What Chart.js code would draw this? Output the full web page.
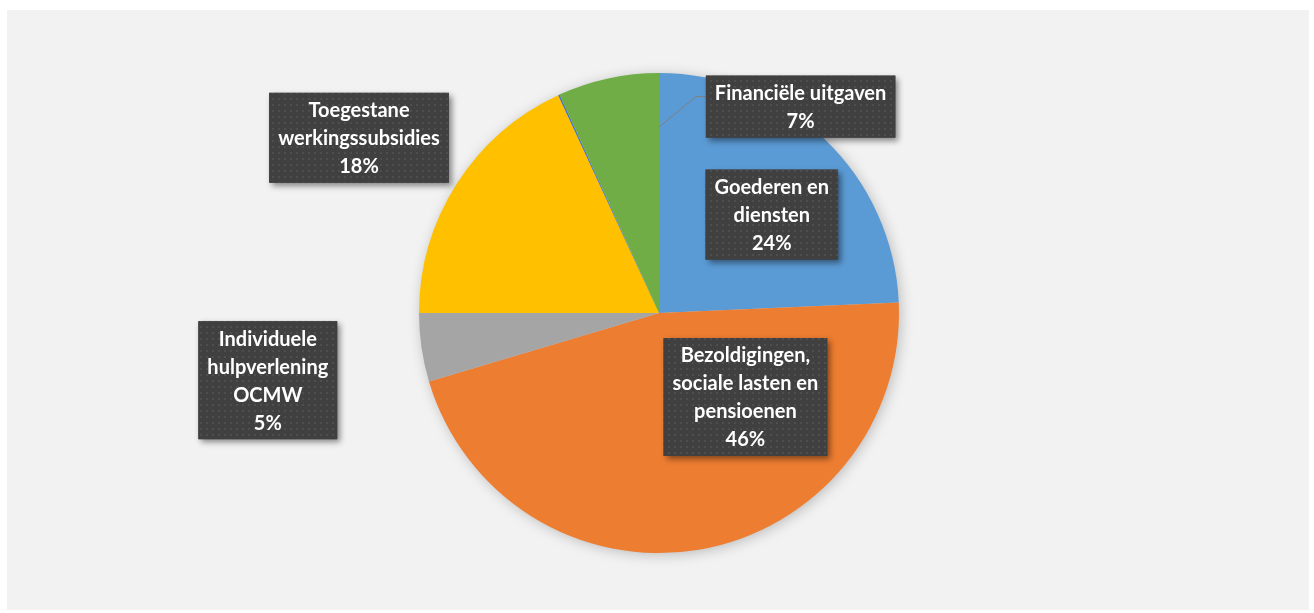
<!DOCTYPE html>
<html>
<head>
<meta charset="utf-8">
<script src="https://cdn.jsdelivr.net/npm/chart.js@4.4.0/dist/chart.umd.min.js"></script>
<style>
  html, body { margin: 0; padding: 0; background: #ffffff; }
  #wrap { width: 1314px; height: 613px; }
</style>
</head>
<body>
<div id="wrap"><canvas id="uitgavenChart" width="1314" height="613"></canvas></div>
<script>
// Uitgaven per soort
const categories = [
    ['Goederen en', 'diensten'],
    ['Bezoldigingen,', 'sociale lasten en', 'pensioenen'],
    ['Individuele', 'hulpverlening', 'OCMW'],
    ['Toegestane', 'werkingssubsidies'],
    ['Overige'],
    ['Financiële uitgaven']
];
const values = [24.3, 46.1, 4.6, 18.1, 0.1, 6.8];
const colors = ['#5b9bd5', '#ed7d31', '#a5a5a5', '#ffc000', '#4472c4', '#70ad47'];
const showLabel = [true, true, true, true, false, true];

// label centers relative to pie center, in radius units
const labelOffsets = [[0.47, -0.41], [0.36, 0.35], [-1.63, 0.28], [-1.25, -0.73], [0, 0], [0.59, -0.86]];

const total = values.reduce((a, b) => a + b, 0);

function dotPattern(ctx) {
    const c = document.createElement('canvas');
    c.width = 6; c.height = 6;
    const p = c.getContext('2d');
    p.fillStyle = '#404040';
    p.fillRect(0, 0, 6, 6);
    p.fillStyle = '#4e4e4e';
    p.fillRect(2, 2, 2, 2);
    return ctx.createPattern(c, 'repeat');
}

const backgroundPlugin = {
    id: 'background',
    beforeDraw(chart) {
        const ctx = chart.ctx;
        ctx.save();
        ctx.fillStyle = '#ffffff';
        ctx.fillRect(0, 0, chart.width, chart.height);
        ctx.fillStyle = '#f2f2f2';
        ctx.fillRect(7, 10, 1302, 600);
        ctx.restore();
    },
    beforeDatasetsDraw(chart) {
        const arc = chart.getDatasetMeta(0).data[0];
        const ctx = chart.ctx;
        ctx.save();
        ctx.shadowColor = 'rgba(0,0,0,0.25)';
        ctx.shadowBlur = 14;
        ctx.shadowOffsetX = 2;
        ctx.shadowOffsetY = 2;
        ctx.fillStyle = '#cccccc';
        ctx.beginPath();
        ctx.arc(arc.x, arc.y, arc.outerRadius - 1, 0, Math.PI * 2);
        ctx.fill();
        ctx.restore();
    }
};

const labelPlugin = {
    id: 'boxLabels',
    afterDatasetsDraw(chart) {
        const ctx = chart.ctx;
        const meta = chart.getDatasetMeta(0);
        const pattern = dotPattern(ctx);
        const lineH = 28;
        ctx.save();
        ctx.font = 'bold 20px Lato, "Open Sans", sans-serif';
        ctx.textAlign = 'center';
        ctx.textBaseline = 'middle';
        meta.data.forEach((arc, i) => {
            if (!showLabel[i]) return;
            const r = arc.outerRadius;
            const cx = arc.x + labelOffsets[i][0] * r;
            const cy = arc.y + labelOffsets[i][1] * r;
            const lines = categories[i].concat([Math.round(values[i] / total * 100) + '%']);
            const w = Math.max(...lines.map(l => ctx.measureText(l).width)) + 18;
            const h = lines.length * lineH + 6;
            const x0 = cx - w / 2, y0 = cy - h / 2;

            // leader line for the outside label
            if (i === 5) {
                const a = arc.endAngle;
                const px = arc.x + Math.cos(a) * r * 0.775;
                const py = arc.y + Math.sin(a) * r * 0.775;
                ctx.strokeStyle = '#7f7f7f';
                ctx.lineWidth = 1;
                ctx.beginPath();
                ctx.moveTo(px, py);
                ctx.lineTo(x0 - 10, y0 + 21);
                ctx.lineTo(x0, y0 + 21);
                ctx.stroke();
            }

            ctx.save();
            ctx.shadowColor = 'rgba(0,0,0,0.45)';
            ctx.shadowBlur = 6;
            ctx.shadowOffsetX = 3;
            ctx.shadowOffsetY = 3;
            ctx.fillStyle = '#404040';
            ctx.fillRect(x0, y0, w, h);
            ctx.restore();
            ctx.fillStyle = pattern;
            ctx.fillRect(x0, y0, w, h);

            ctx.fillStyle = '#ffffff';
            lines.forEach((l, k) => {
                ctx.fillText(l, cx, y0 + 3 + lineH / 2 + k * lineH + 1);
            });
        });
        ctx.restore();
    }
};

const ctx = document.getElementById('uitgavenChart').getContext('2d');
new Chart(ctx, {
    type: 'pie',
    data: {
        labels: categories.map(c => c.join(' ')),
        datasets: [{
            data: values,
            backgroundColor: colors,
            borderWidth: 0
        }]
    },
    options: {
        responsive: false,
        animation: false,
        layout: {
            padding: { top: 73, bottom: 60, left: 419, right: 415 }
        },
        plugins: {
            legend: { display: false },
            tooltip: { enabled: false }
        }
    },
    plugins: [backgroundPlugin, labelPlugin]
});
</script>
</body>
</html>
